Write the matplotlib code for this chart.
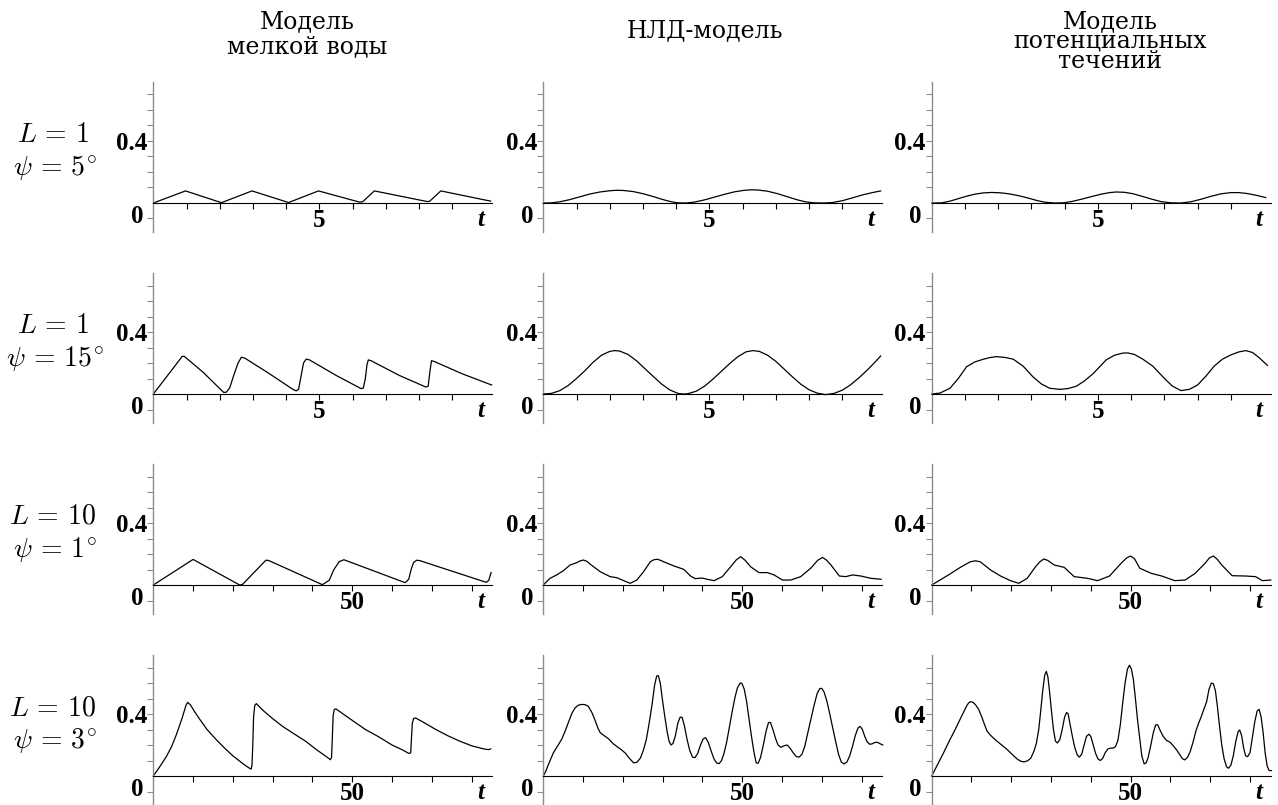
import matplotlib.pyplot as plt
from matplotlib.transforms import offset_copy

plt.rcParams['mathtext.fontset'] = 'cm'

# --- chart data -------------------------------------------------------------
# row 1: L = 1, psi = 5 deg
t_r1_sw = [0, 0.97, 2.05, 2.97, 4.07, 4.97, 6.2, 6.3, 6.65, 8.25, 8.32, 8.65, 10.15]
y_r1_sw = [0, 0.078, 0.002, 0.078, 0.003, 0.078, 0.006, 0.008, 0.078, 0.009, 0.012, 0.078, 0.012]
t_r1_nld = [0, 0.25, 0.5, 0.8, 1.1, 1.4, 1.7, 2.0, 2.2, 2.4, 2.7, 3.0, 3.3, 3.6, 3.85, 4.05,
            4.3, 4.55, 4.85, 5.15, 5.45, 5.75, 6.05, 6.25, 6.45, 6.75, 7.05, 7.35, 7.65, 7.9,
            8.15, 8.45, 8.7, 9.0, 9.3, 9.6, 9.9, 10.15]
y_r1_nld = [0, 0.001, 0.008, 0.022, 0.040, 0.058, 0.071, 0.079, 0.082, 0.081, 0.074, 0.060,
            0.042, 0.022, 0.008, 0.001, 0.0, 0.006, 0.02, 0.038, 0.056, 0.072, 0.082, 0.085,
            0.084, 0.076, 0.060, 0.040, 0.020, 0.007, 0.001, 0.0, 0.003, 0.015, 0.033, 0.052,
            0.067, 0.078]
t_r1_pot = [0, 0.3, 0.55, 0.8, 1.05, 1.3, 1.55, 1.8, 2.05, 2.3, 2.6, 2.9, 3.15, 3.4, 3.7,
            3.95, 4.2, 4.5, 4.8, 5.1, 5.35, 5.55, 5.8, 6.05, 6.3, 6.6, 6.9, 7.2, 7.5, 7.8, 8.1,
            8.4, 8.7, 9.0, 9.25, 9.5, 9.8, 10.05]
y_r1_pot = [0, 0.001, 0.012, 0.028, 0.044, 0.057, 0.065, 0.068, 0.066, 0.060, 0.048, 0.032,
            0.017, 0.005, 0.0, 0.001, 0.009, 0.024, 0.041, 0.057, 0.067, 0.071, 0.069, 0.06,
            0.045, 0.026, 0.009, 0.001, 0.0, 0.008, 0.024, 0.043, 0.059, 0.067, 0.067, 0.061,
            0.048, 0.035]

# row 2: L = 1, psi = 15 deg
t_r2_sw = [0, 0.45, 0.87, 0.93, 1.5, 2.0, 2.12, 2.2, 2.3, 2.42, 2.55, 2.65, 2.75, 3.5, 4.2,
           4.3, 4.37, 4.45, 4.52, 4.6, 4.7, 5.5, 6.25, 6.32, 6.38, 6.43, 6.47, 6.55, 7.4, 8.2,
           8.27, 8.32, 8.37, 8.45, 9.3, 10.18]
y_r2_sw = [0, 0.125, 0.243, 0.243, 0.14, 0.035, 0.01, 0.012, 0.04, 0.12, 0.2, 0.237, 0.232,
           0.13, 0.03, 0.02, 0.03, 0.12, 0.2, 0.225, 0.22, 0.12, 0.035, 0.038, 0.1, 0.19, 0.22,
           0.215, 0.12, 0.045, 0.05, 0.14, 0.215, 0.21, 0.13, 0.058]
t_r2_nld = [0, 0.25, 0.5, 0.75, 1.0, 1.25, 1.5, 1.75, 2.0, 2.15, 2.3, 2.55, 2.8, 3.05, 3.3,
            3.55, 3.8, 4.05, 4.2, 4.35, 4.6, 4.85, 5.1, 5.35, 5.6, 5.85, 6.1, 6.3, 6.5, 6.75,
            7.0, 7.25, 7.5, 7.75, 8.0, 8.25, 8.5, 8.75, 9.0, 9.25, 9.5, 9.75, 10.0, 10.15]
y_r2_nld = [0, 0.004, 0.022, 0.055, 0.1, 0.15, 0.205, 0.25, 0.275, 0.28, 0.277, 0.255, 0.215,
            0.165, 0.115, 0.066, 0.027, 0.004, 0.0, 0.002, 0.018, 0.05, 0.095, 0.145, 0.195,
            0.24, 0.272, 0.28, 0.275, 0.25, 0.21, 0.16, 0.11, 0.063, 0.027, 0.005, -0.004,
            0.004, 0.025, 0.06, 0.105, 0.155, 0.21, 0.245]
t_r2_pot = [0, 0.25, 0.55, 0.8, 1.05, 1.3, 1.55, 1.75, 1.95, 2.2, 2.45, 2.75, 3.05, 3.3,
            3.55, 3.85, 4.1, 4.35, 4.6, 4.85, 5.05, 5.25, 5.5, 5.75, 5.9, 6.1, 6.35, 6.65,
            6.85, 7.05, 7.25, 7.5, 7.75, 8.0, 8.25, 8.5, 8.75, 9.0, 9.25, 9.45, 9.65, 9.85,
            10.1]
y_r2_pot = [0, 0.006, 0.037, 0.1, 0.176, 0.207, 0.224, 0.235, 0.241, 0.236, 0.225, 0.18,
            0.11, 0.065, 0.037, 0.03, 0.035, 0.05, 0.085, 0.13, 0.175, 0.22, 0.25, 0.264,
            0.265, 0.255, 0.225, 0.18, 0.135, 0.09, 0.05, 0.022, 0.03, 0.058, 0.115, 0.18,
            0.225, 0.252, 0.272, 0.28, 0.268, 0.235, 0.185]

# row 3: L = 10, psi = 1 deg
t_r3_sw = [0, 10, 21.7, 22.4, 28.3, 29, 42.5, 44.2, 45.4, 46.7, 47.9, 63.3, 64.2, 64.8, 65.4,
           66.2, 67, 83.7, 84.3, 84.9]
y_r3_sw = [0, 0.165, 0.0, 0.003, 0.16, 0.158, 0.002, 0.03, 0.1, 0.15, 0.163, 0.015, 0.037,
           0.1, 0.145, 0.16, 0.157, 0.017, 0.03, 0.08]
t_r3_nld = [0, 1.68, 3.36, 5.04, 6.72, 8.4, 9.2, 10.08, 11.0, 11.76, 14.29, 16.8, 18.5, 20.2,
            21.85, 23.5, 25.2, 26.9, 27.8, 28.6, 29.4, 30.25, 32.8, 35.3, 37.0, 38.2, 39.9,
            41.2, 42.9, 45.0, 47.1, 48.5, 49.6, 50.7, 52.1, 54.2, 56.3, 58.0, 60.1, 62.2,
            64.7, 67.2, 69.0, 70.2, 71.2, 72.3, 74.4, 76.05, 77.7, 79.8, 82.35, 84.9]
y_r3_nld = [0, 0.043, 0.065, 0.092, 0.129, 0.144, 0.155, 0.161, 0.152, 0.135, 0.086, 0.054,
            0.047, 0.028, 0.011, 0.032, 0.086, 0.15, 0.163, 0.166, 0.16, 0.15, 0.123, 0.101,
            0.058, 0.041, 0.045, 0.037, 0.028, 0.054, 0.118, 0.162, 0.183, 0.16, 0.118, 0.08,
            0.08, 0.065, 0.032, 0.032, 0.054, 0.108, 0.16, 0.178, 0.16, 0.129, 0.058, 0.054,
            0.065, 0.058, 0.043, 0.037]
t_r3_pot = [0, 2.1, 4.6, 7.2, 9.7, 11.0, 12.2, 14.8, 17.3, 19.8, 21.9, 24.0, 26.1, 27.2,
            28.2, 29.2, 30.8, 33.3, 35.8, 39.2, 41.7, 44.7, 47.6, 49.0, 50.0, 51.0, 52.3,
            55.2, 57.8, 61.1, 63.7, 66.2, 68.7, 69.8, 70.8, 71.8, 72.9, 75.5, 78.8, 81.4,
            83.1, 85.2]
y_r3_pot = [0, 0.032, 0.071, 0.114, 0.15, 0.156, 0.15, 0.097, 0.058, 0.028, 0.011, 0.043,
            0.118, 0.15, 0.168, 0.158, 0.129, 0.114, 0.054, 0.043, 0.028, 0.058, 0.14, 0.175,
            0.187, 0.168, 0.108, 0.075, 0.058, 0.028, 0.032, 0.075, 0.14, 0.175, 0.187,
            0.165, 0.129, 0.06, 0.058, 0.054, 0.028, 0.032]

# row 4: L = 10, psi = 3 deg
t_r4_sw = [0, 1.5, 3.3, 4.6, 5.8, 7.2, 8.2, 8.6, 9.3, 10.5, 11.7, 13.5, 15.8, 18, 20, 22,
           23.3, 24.3, 24.6, 24.8, 25.0, 25.2, 25.5, 25.9, 27.5, 30, 32.5, 35.5, 38.3, 41,
           43.5, 44.5, 44.8, 45.0, 45.2, 45.5, 45.9, 48, 50.5, 53.3, 56.5, 60, 62.5, 64.3,
           64.7, 64.9, 65.1, 65.4, 65.9, 68, 71, 74, 77, 80, 83, 84.2, 84.8]
y_r4_sw = [0, 0.055, 0.126, 0.19, 0.267, 0.37, 0.455, 0.475, 0.46, 0.41, 0.365, 0.3, 0.235,
           0.178, 0.13, 0.09, 0.065, 0.048, 0.045, 0.07, 0.2, 0.38, 0.455, 0.467, 0.425, 0.37,
           0.32, 0.27, 0.224, 0.17, 0.125, 0.105, 0.12, 0.25, 0.39, 0.43, 0.433, 0.395, 0.35,
           0.3, 0.255, 0.2, 0.17, 0.145, 0.15, 0.25, 0.34, 0.37, 0.375, 0.345, 0.3, 0.26,
           0.225, 0.195, 0.175, 0.17, 0.175]
t_r4_nld = [0, 0.6, 1.26, 2.5, 3.5, 4.6, 5.5, 6.3, 7.2, 8.0, 8.8, 9.7, 10.5, 11.3, 12.2,
            13.0, 13.7, 14.3, 15.2, 16.4, 17.5, 18.5, 19.6, 20.6, 21.6, 22.7, 23.5, 24.4,
            25.2, 25.9, 26.6, 27.3, 28.0, 28.5, 28.9, 29.4, 29.9, 30.5, 31.1, 31.6, 32.1,
            32.6, 33.2, 33.8, 34.4, 34.9, 35.5, 36.1, 36.8, 37.5, 38.1, 38.8, 39.5, 40.2,
            40.8, 41.5, 42.2, 42.9, 43.6, 44.2, 44.8, 45.4, 46.1, 46.8, 47.5, 48.2, 48.8,
            49.5, 49.9, 50.5, 51.1, 51.7, 52.3, 52.9, 53.5, 54.0, 54.6, 55.3, 56.0, 56.6,
            57.1, 57.7, 58.4, 59.0, 59.7, 60.5, 61.3, 62.0, 62.8, 63.6, 64.3, 65.0, 65.7,
            66.4, 67.2, 68.0, 68.8, 69.5, 70.0, 70.6, 71.3, 72.0, 72.7, 73.5, 74.2, 74.9,
            75.6, 76.3, 77.0, 77.7, 78.4, 79.1, 79.6, 80.2, 80.8, 81.4, 82.0, 82.6, 83.3,
            83.9, 84.5, 85.3]
y_r4_nld = [0, 0.03, 0.072, 0.148, 0.19, 0.236, 0.29, 0.345, 0.405, 0.44, 0.457, 0.462,
            0.46, 0.45, 0.41, 0.36, 0.31, 0.28, 0.262, 0.24, 0.21, 0.19, 0.17, 0.148, 0.115,
            0.085, 0.088, 0.115, 0.17, 0.236, 0.34, 0.455, 0.59, 0.645, 0.648, 0.6, 0.5,
            0.39, 0.29, 0.225, 0.2, 0.21, 0.26, 0.34, 0.38, 0.378, 0.32, 0.24, 0.165, 0.122,
            0.118, 0.145, 0.2, 0.24, 0.247, 0.215, 0.16, 0.11, 0.083, 0.08, 0.1, 0.145, 0.22,
            0.32, 0.42, 0.51, 0.57, 0.6, 0.598, 0.56, 0.48, 0.37, 0.26, 0.16, 0.085, 0.082,
            0.12, 0.2, 0.29, 0.345, 0.345, 0.3, 0.24, 0.2, 0.185, 0.195, 0.2, 0.18, 0.15,
            0.125, 0.122, 0.14, 0.19, 0.27, 0.36, 0.45, 0.53, 0.565, 0.565, 0.54, 0.48, 0.4,
            0.315, 0.22, 0.14, 0.09, 0.078, 0.09, 0.13, 0.19, 0.26, 0.31, 0.32, 0.3, 0.255,
            0.22, 0.205, 0.207, 0.216, 0.218, 0.21, 0.2]
t_r4_pot = [0, 1.5, 2.95, 4.4, 5.9, 7.4, 8.85, 9.3, 9.8, 10.4, 11.0, 11.8, 12.6, 13.3, 13.9,
            14.6, 15.5, 16.4, 17.6, 19.0, 20.2, 21.5, 22.4, 23.2, 24.1, 24.9, 25.7, 26.3,
            26.9, 27.4, 27.9, 28.4, 28.8, 29.2, 29.6, 30.1, 30.6, 31.1, 31.6, 32.2, 32.8,
            33.4, 33.9, 34.3, 34.8, 35.4, 36.0, 36.6, 37.1, 37.7, 38.3, 38.9, 39.5, 40.0,
            40.6, 41.2, 41.8, 42.4, 43.0, 43.6, 44.3, 45.0, 45.6, 46.2, 46.8, 47.4, 48.0,
            48.6, 49.2, 49.7, 50.2, 50.7, 51.2, 51.7, 52.3, 52.8, 53.4, 53.9, 54.4, 55.0,
            55.7, 56.3, 56.8, 57.4, 58.2, 59.0, 59.9, 60.7, 61.5, 62.3, 63.0, 63.6, 64.3,
            65.0, 65.7, 66.4, 67.0, 67.7, 68.4, 69.1, 69.7, 70.3, 70.8, 71.3, 71.8, 72.3,
            72.9, 73.5, 74.1, 74.6, 75.2, 75.8, 76.4, 77.0, 77.4, 77.9, 78.4, 78.9, 79.4,
            80.0, 80.6, 81.2, 81.8, 82.3, 82.8, 83.3, 83.8, 84.3, 84.8, 85.4]
y_r4_pot = [0, 0.075, 0.148, 0.225, 0.3, 0.38, 0.455, 0.472, 0.48, 0.475, 0.46, 0.43, 0.38,
            0.33, 0.29, 0.268, 0.245, 0.225, 0.2, 0.17, 0.14, 0.109, 0.095, 0.091, 0.098,
            0.115, 0.16, 0.21, 0.3, 0.42, 0.55, 0.65, 0.675, 0.64, 0.55, 0.42, 0.3, 0.225,
            0.213, 0.235, 0.3, 0.38, 0.41, 0.4, 0.33, 0.25, 0.18, 0.135, 0.122, 0.14, 0.2,
            0.255, 0.27, 0.255, 0.2, 0.145, 0.11, 0.1, 0.115, 0.15, 0.175, 0.18, 0.18, 0.19,
            0.23, 0.33, 0.47, 0.6, 0.69, 0.715, 0.69, 0.62, 0.5, 0.37, 0.236, 0.13, 0.078,
            0.085, 0.12, 0.19, 0.28, 0.33, 0.33, 0.295, 0.255, 0.23, 0.218, 0.195, 0.17, 0.14,
            0.112, 0.104, 0.12, 0.16, 0.22, 0.29, 0.335, 0.38, 0.43, 0.48, 0.56, 0.6, 0.595,
            0.55, 0.45, 0.33, 0.2, 0.11, 0.06, 0.05, 0.07, 0.13, 0.22, 0.285, 0.297, 0.26,
            0.18, 0.13, 0.125, 0.15, 0.25, 0.35, 0.42, 0.43, 0.38, 0.28, 0.15, 0.065, 0.035,
            0.035]

col_titles = ["Модель\nмелкой воды", "НЛД-модель", "Модель\nпотенциальных\nтечений"]
row_L = [r"$L\,=\,1$", r"$L\,=\,1$", r"$L\,=\,10$", r"$L\,=\,10$"]
row_psi = [r"$\psi\,=\,5^{\!\circ}$", r"$\psi\,=\,15^{\!\circ}$", r"$\psi\,=\,1^{\!\circ}$",
           r"$\psi\,=\,3^{\!\circ}$"]
t_max = [10.2, 10.2, 85.2, 85.2]
t_label = [5, 5, 50, 50]

series = [
    [(t_r1_sw, y_r1_sw), (t_r1_nld, y_r1_nld), (t_r1_pot, y_r1_pot)],
    [(t_r2_sw, y_r2_sw), (t_r2_nld, y_r2_nld), (t_r2_pot, y_r2_pot)],
    [(t_r3_sw, y_r3_sw), (t_r3_nld, y_r3_nld), (t_r3_pot, y_r3_pot)],
    [(t_r4_sw, y_r4_sw), (t_r4_nld, y_r4_nld), (t_r4_pot, y_r4_pot)],
]

# --- layout (pixels) ----------------------------------------------------------
W, H = 1278, 805
fig = plt.figure(figsize=(W / 100, H / 100), dpi=100)

row_zero = [203, 394, 585, 776]
col_left = [153.3, 543.3, 931.7]
ax_w = 339
ppu = 155  # pixels per unit of y
y_lo, y_hi = -0.19, 0.78
grey = "#8c8c8c"

bold = dict(family="Liberation Serif", weight="bold", size=18)

for r in range(4):
    for c in range(3):
        x0 = col_left[c]
        top = row_zero[r] - y_hi * ppu
        h = (y_hi - y_lo) * ppu
        ax = fig.add_axes([x0 / W, 1 - (top + h) / H, ax_w / W, h / H])
        ax.set_xlim(0, t_max[r])
        ax.set_ylim(y_lo, y_hi)
        ax.patch.set_visible(False)
        for s in ("top", "right"):
            ax.spines[s].set_visible(False)
        ax.spines["bottom"].set_position(("data", 0))
        ax.spines["bottom"].set_linewidth(0.8)
        ax.spines["left"].set_color(grey)
        ax.spines["left"].set_linewidth(1.0)

        step = t_label[r] / 5
        ax.set_xticks([t_label[r]], labels=[str(t_label[r])])
        ax.set_xticks([step * k for k in range(1, 10) if k != 5 and step * k < t_max[r] - step / 2],
                      minor=True)
        ax.tick_params(axis="x", which="both", direction="out", length=4, width=0.8,
                       pad=0.5, labelsize=18)
        ax.set_yticks([0.4], labels=["0.4"])
        ax.set_yticks([-0.1, 0.1, 0.2, 0.3, 0.5, 0.6, 0.7], minor=True)
        ax.tick_params(axis="y", which="both", direction="out", length=4, width=0.8,
                       color=grey, pad=0.5, labelsize=18)
        for lab in ax.get_xticklabels() + ax.get_yticklabels():
            lab.set_fontfamily("Liberation Serif")
            lab.set_fontweight("bold")

        zero_tr = offset_copy(ax.get_yaxis_transform(), fig=fig, x=-10, y=-2, units="dots")
        ax.text(0, 0, "0", transform=zero_tr, ha="right", va="top", **bold)
        t_tr = offset_copy(ax.transData, fig=fig, x=0, y=-5, units="dots")
        ax.text(0.965 * t_max[r], 0, "t", transform=t_tr, ha="center", va="top",
                style="italic", **bold)

        tt, yy = series[r][c]
        ax.plot(tt, yy, color="black", lw=0.9, clip_on=False)

# row labels
for r in range(4):
    z = row_zero[r]
    fig.text(53 / W, 1 - (z - 61) / H, row_L[r], ha="center", va="baseline", fontsize=20)
    fig.text(55 / W, 1 - (z - 28) / H, row_psi[r], ha="center", va="baseline", fontsize=20)

# column titles (va='baseline' anchors the last line)
title_x = [307, 705, 1110]
title_base = [53, 37, 68]
title_gap = [1.08, 1.0, 0.84]
for c in range(3):
    fig.text(title_x[c] / W, 1 - title_base[c] / H, col_titles[c], ha="center",
             va="baseline", ma="center", linespacing=title_gap[c],
             family="DejaVu Serif", fontsize=17)

fig.savefig("out.png", dpi=100)
